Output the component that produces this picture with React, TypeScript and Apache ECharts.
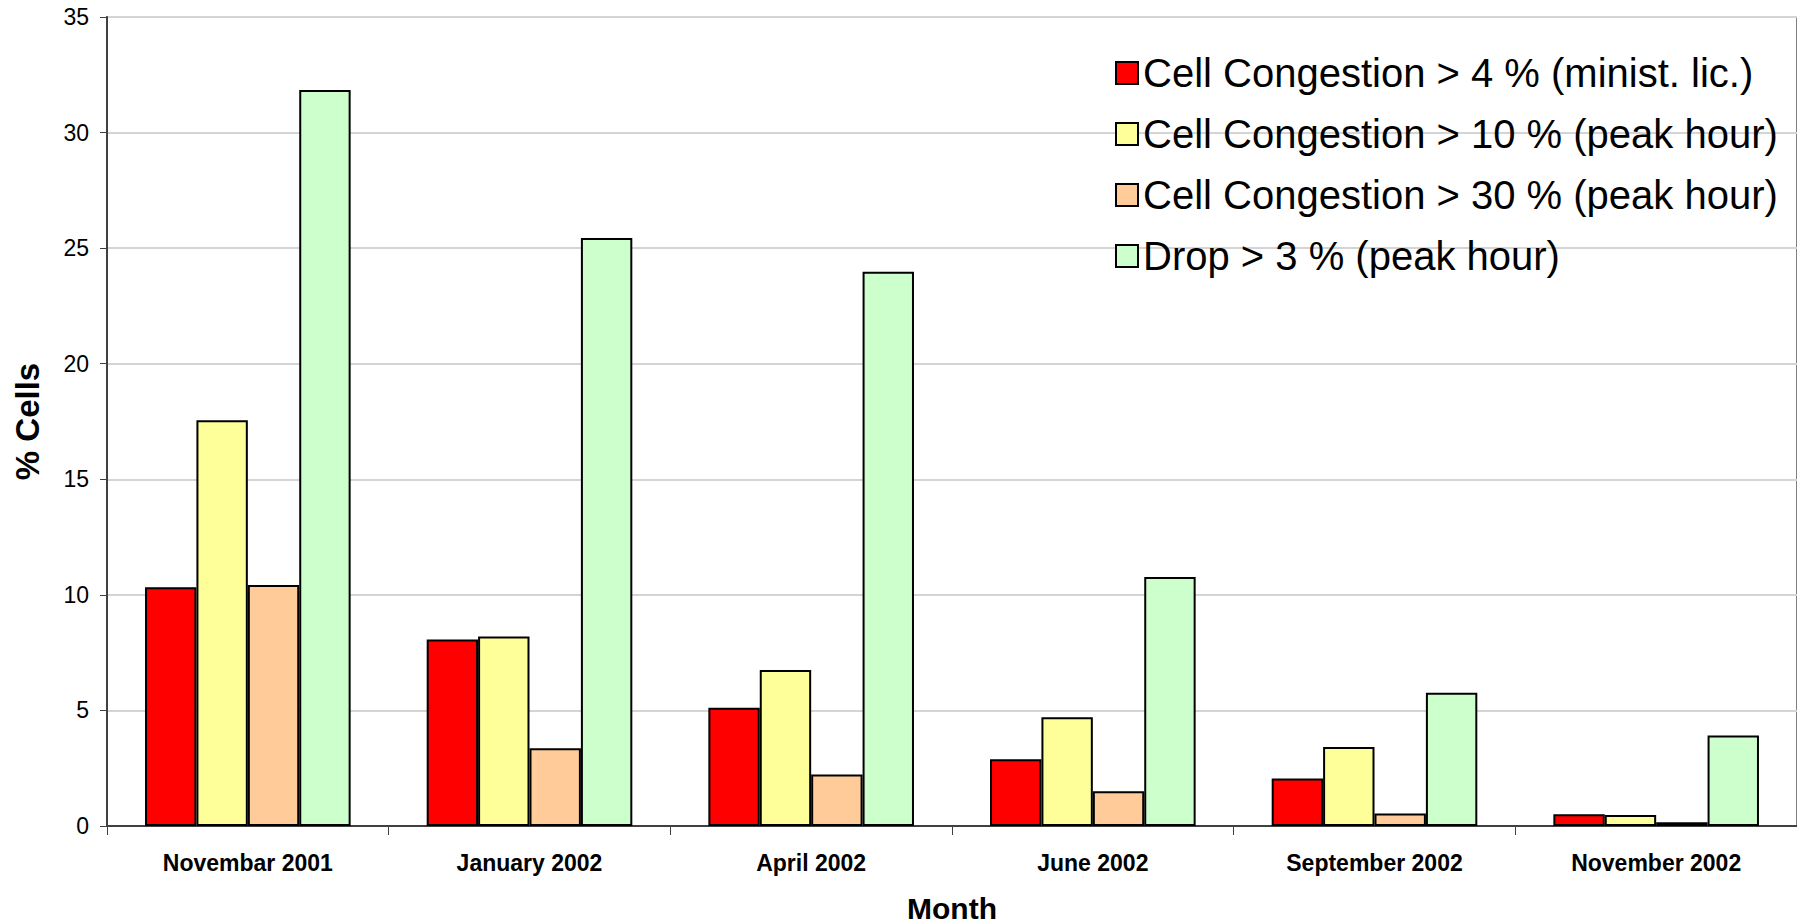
import React, { useEffect, useRef } from "react";
import * as echarts from "echarts";

const categories = [
  "Novembar 2001",
  "January 2002",
  "April 2002",
  "June 2002",
  "September 2002",
  "November 2002",
];
const seriesNames = [
  "Cell Congestion > 4 % (minist. lic.)",
  "Cell Congestion > 10 % (peak hour)",
  "Cell Congestion > 30 % (peak hour)",
  "Drop > 3 % (peak hour)",
];
const congestion4 = [10.33, 8.07, 5.12, 2.89, 2.05, 0.51];
const congestion10 = [17.55, 8.2, 6.75, 4.71, 3.42, 0.48];
const congestion30 = [10.43, 3.36, 2.23, 1.5, 0.54, 0.16];
const drop3 = [31.84, 25.44, 23.98, 10.77, 5.77, 3.92];
const seriesColors = ["#FF0000", "#FFFF99", "#FFCC99", "#CCFFCC"];
const yTicks = [0, 5, 10, 15, 20, 25, 30, 35];

const FONT = "'Liberation Sans', Arial, Helvetica, sans-serif";

export default function App() {
  const ref = useRef<HTMLDivElement>(null);
  useEffect(() => {
    if (!ref.current) return;
    const chart = echarts.init(ref.current, undefined, { renderer: "svg" });
    const values = [congestion4, congestion10, congestion30, drop3];
    chart.setOption({
      animation: false,
      backgroundColor: "#ffffff",
      textStyle: { fontFamily: FONT },
      grid: {
        left: 107,
        top: 17,
        right: 0,
        bottom: 98,
        show: true,
        borderColor: "#808080",
        borderWidth: 2,
        containLabel: false,
        outerBoundsMode: "none",
      },
      legend: {
        orient: "vertical",
        left: 1110,
        top: 48,
        itemWidth: 22,
        itemHeight: 22,
        itemGap: 21,
        icon: "rect",
        data: seriesNames,
        itemStyle: { borderColor: "#000", borderWidth: 2 },
        textStyle: { fontSize: 40, color: "#000", fontFamily: FONT, padding: 0 },
      },
      xAxis: {
        type: "category",
        data: categories,
        name: "Month",
        nameLocation: "middle",
        nameGap: 67,
        nameTextStyle: { fontSize: 30, lineHeight: 30, fontWeight: "bold", color: "#000", fontFamily: FONT },
        axisLine: { lineStyle: { color: "#404040", width: 2 } },
        axisTick: { show: true, length: 9, inside: false, lineStyle: { color: "#404040", width: 1 } },
        axisLabel: { fontSize: 23, fontWeight: "bold", color: "#000", margin: 25, fontFamily: FONT },
        splitLine: { show: false },
      },
      yAxis: {
        type: "value",
        min: yTicks[0],
        max: yTicks[yTicks.length - 1],
        interval: 5,
        name: "% Cells",
        nameLocation: "middle",
        nameGap: 63,
        nameRotate: 90,
        nameTextStyle: { fontSize: 33, fontWeight: "bold", color: "#000", fontFamily: FONT },
        axisLine: { show: true, lineStyle: { color: "#404040", width: 2 } },
        axisTick: { show: true, length: 7, inside: false, lineStyle: { color: "#404040", width: 1 } },
        axisLabel: { fontSize: 23, color: "#000", margin: 18, fontFamily: FONT },
        splitLine: { show: true, lineStyle: { color: "#d4d4d4", width: 2 } },
      },
      series: seriesNames.map((name, i) => ({
        name,
        type: "bar",
        data: values[i],
        barGap: "0%",
        barCategoryGap: "27%",
        itemStyle: { color: seriesColors[i], borderColor: "#000", borderWidth: 2 },
      })),
    });
    return () => chart.dispose();
  }, []);
  return (
    <div
      ref={ref}
      style={{ position: "fixed", left: 0, top: 0, width: 1797, height: 924 }}
    />
  );
}
